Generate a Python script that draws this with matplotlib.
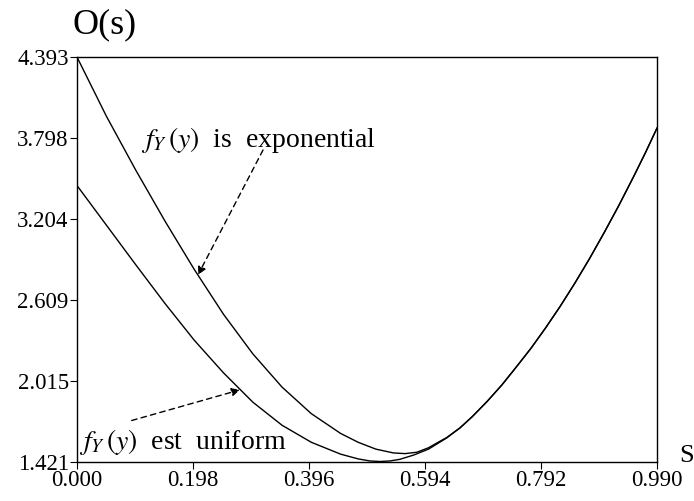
import matplotlib
matplotlib.use("Agg")
import matplotlib.pyplot as plt

plt.rcParams['font.family'] = ['Liberation Serif', 'DejaVu Serif']
plt.rcParams['mathtext.fontset'] = 'stix'

# --- data ---
s_exp = [0.000, 0.050, 0.100, 0.150, 0.200, 0.250, 0.300, 0.350, 0.400, 0.450,
         0.480, 0.510, 0.540, 0.560, 0.580, 0.600, 0.615, 0.631,
         0.654, 0.675, 0.700, 0.725, 0.750, 0.775, 0.800, 0.825, 0.850,
         0.875, 0.900, 0.925, 0.950, 0.970, 0.990]
v_exp = [4.393, 3.960, 3.565, 3.190, 2.835, 2.505, 2.215, 1.970, 1.775, 1.630,
         1.565, 1.515, 1.487, 1.482, 1.492, 1.525, 1.562, 1.600,
         1.672, 1.755, 1.865, 1.985, 2.119, 2.256, 2.406, 2.565, 2.735,
         2.915, 3.106, 3.305, 3.515, 3.689, 3.872]

s_uni = [0.000, 0.050, 0.100, 0.150, 0.200, 0.250, 0.300, 0.350, 0.400, 0.450,
         0.480, 0.500, 0.517, 0.534, 0.551, 0.575, 0.600, 0.631,
         0.654, 0.675, 0.700, 0.725, 0.750, 0.775, 0.800, 0.825, 0.850,
         0.875, 0.900, 0.925, 0.950, 0.970, 0.990]
v_uni = [3.450, 3.160, 2.870, 2.585, 2.315, 2.075, 1.860, 1.690, 1.565, 1.478,
         1.443, 1.428, 1.424, 1.428, 1.440, 1.472, 1.515, 1.597,
         1.672, 1.755, 1.865, 1.985, 2.119, 2.256, 2.406, 2.565, 2.735,
         2.915, 3.106, 3.305, 3.515, 3.689, 3.872]

x_ticks = [0.000, 0.198, 0.396, 0.594, 0.792, 0.990]
y_ticks = [1.421, 2.015, 2.609, 3.204, 3.798, 4.393]
x_labels = ["0.000", "0.198", "0.396", "0.594", "0.792", "0.990"]
y_labels = ["1.421", "2.015", "2.609", "3.204", "3.798", "4.393"]

fig = plt.figure(figsize=(6.94, 5.01), dpi=100)
ax = fig.add_axes([0.111, 0.078, 0.8357, 0.808])

ax.plot(s_exp, v_exp, color='black', lw=1.0)
ax.plot(s_uni, v_uni, color='black', lw=1.0)

ax.set_xlim(x_ticks[0], x_ticks[-1])
ax.set_ylim(y_ticks[0], y_ticks[-1])
ax.set_xticks(x_ticks)
ax.set_xticklabels(x_labels)
ax.set_yticks(y_ticks)
ax.set_yticklabels(y_labels)
ax.tick_params(direction='out', length=5, width=0.8, labelsize=16.5, pad=1)
for sp in ax.spines.values():
    sp.set_linewidth(1.0)

# axis titles
fig.text(0.104, 0.950, "O(s)", fontsize=26, ha='left', va='center')
fig.text(0.989, 0.078, "S", fontsize=19, ha='center', va='baseline')

# annotations
ax.text(0.110, 3.785, r"$f_Y\,(y)$  is  exponential", fontsize=20, ha='left', va='center')
ax.annotate("", xy=(0.2065, 2.794), xytext=(0.3175, 3.711),
            arrowprops=dict(arrowstyle='-|>', linestyle=(0, (4, 3)), color='black',
                            lw=1.0, mutation_scale=12, shrinkA=0, shrinkB=0))
ax.text(0.003, 1.570, r"$f_Y\,(y)$  est  uniform", fontsize=20, ha='left', va='center')
ax.annotate("", xy=(0.278, 1.950), xytext=(0.0933, 1.725),
            arrowprops=dict(arrowstyle='-|>', linestyle=(0, (4, 3)), color='black',
                            lw=1.0, mutation_scale=12, shrinkA=0, shrinkB=0))

fig.savefig("out.png", dpi=100)
